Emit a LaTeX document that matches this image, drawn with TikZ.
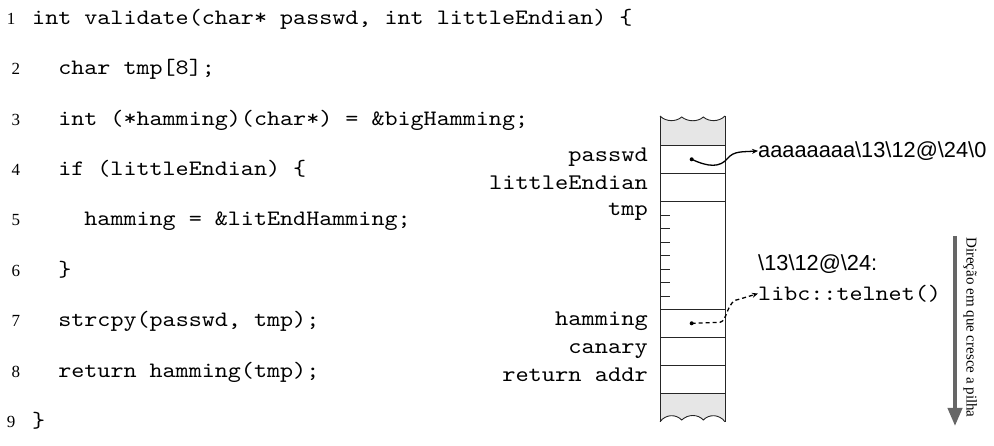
\documentclass[tikz,border=0pt]{standalone}
\usepackage{fontspec}
\setmainfont{Liberation Serif}
\newfontfamily\codefont{lmmono10-regular.otf}[FakeStretch=1.13]
\newfontfamily\labelfont{Liberation Sans}
\usetikzlibrary{arrows.meta}

\definecolor{stackgray}{HTML}{E6E6E6}
\definecolor{arrowgray}{HTML}{666666}

\tikzset{
  codeline/.style={anchor=mid west, inner sep=0pt, font=\codefont\fontsize{22}{24}\selectfont},
  lineno/.style={anchor=mid, inner sep=0pt, font=\fontsize{17}{20}\selectfont},
  slotlabel/.style={anchor=mid east, inner sep=0pt, font=\codefont\fontsize{22.3}{24}\selectfont},
  valuetext/.style={anchor=mid west, inner sep=0pt, font=\labelfont\fontsize{21.8}{24}\selectfont},
  frameline/.style={line width=0.9pt, draw=black!85},
  ptr/.style={line width=1.3pt, -{Stealth[length=6pt,width=5pt]}},
  ptrdot/.style={circle, fill=black, inner sep=0pt, minimum size=4pt},
}

\begin{document}
\begin{tikzpicture}[x=1pt,y=-1pt]
\useasboundingbox (0,0) rectangle (994,446);

% ---- source listing ----
\node[lineno] (n1) at (11,22) {1};
\node[codeline] (c1) at (32,22) {int validate(char* passwd, int littleEndian) \{};
\foreach \i/\txt/\ind in {2/{char tmp[8];}/2, 3/{int (*hamming)(char*) = \&bigHamming;}/2,
  4/{if (littleEndian) \{}/2, 5/{hamming = \&litEndHamming;}/4, 6/{\}}/2,
  7/{strcpy(passwd, tmp);}/2, 8/{return hamming(tmp);}/2}{
  \node[lineno] (n\i) at (16,{22+(\i-1)*50.4}) {\i};
  \node[codeline] (c\i) at ({32+\ind*13.05},{22+(\i-1)*50.4}) {\txt};
}
\node[lineno] (n9) at (11,425.2) {9};
\node[codeline] (c9) at (32,425.2) {\}};

% ---- stack frame ----
% grey torn ends
\path[fill=stackgray] (660,145.7) -- (660,116)
  .. controls (666,122) and (676,122) .. (681.7,117)
  .. controls (688,122) and (698,122) .. (703.3,117)
  .. controls (709,122) and (719,122) .. (725,116) -- (725,145.7) -- cycle;
\path[fill=stackgray] (660,393.3) -- (660,421.7)
  .. controls (666,414) and (676,414) .. (681.7,420)
  .. controls (688,414) and (698,414) .. (703.3,420)
  .. controls (709,414) and (719,414) .. (725,421.7) -- (725,393.3) -- cycle;
\draw[frameline] (660,116)
  .. controls (666,122) and (676,122) .. (681.7,117)
  .. controls (688,122) and (698,122) .. (703.3,117)
  .. controls (709,122) and (719,122) .. (725,116);
\draw[frameline] (660,421.7)
  .. controls (666,414) and (676,414) .. (681.7,420)
  .. controls (688,414) and (698,414) .. (703.3,420)
  .. controls (709,414) and (719,414) .. (725,421.7);
\draw[frameline] (660,116) -- (660,421.7);
\draw[frameline] (725,116) -- (725,421.7);
\foreach \y in {145.7,173.3,201,309.3,337,365,393.3}
  \draw[frameline] (660,\y) -- (725,\y);
\foreach \y in {215,228.3,242.3,255.7,269.3,282.7,296}
  \draw[frameline] (660,\y) -- (670,\y);

% slot names
\node[slotlabel] (s1) at (648,159.5) {passwd};
\node[slotlabel] (s2) at (648,187) {littleEndian};
\node[slotlabel] (s3) at (648,213) {tmp};
\node[slotlabel] (s4) at (648,323.3) {hamming};
\node[slotlabel] (s5) at (648,351) {canary};
\node[slotlabel] (s6) at (648,379) {return addr};

% overflowed contents
\node[valuetext] (v1) at (758,155) {aaaaaaaa\textbackslash13\textbackslash12@\textbackslash24\textbackslash0};
\node[valuetext] (v2) at (758,268) {\textbackslash13\textbackslash12@\textbackslash24:};
\node[codeline] (v3) at (758,298) {libc::telnet()};

% pointers
\node[ptrdot] (p1) at (691.7,159.3) {};
\node[ptrdot] (p2) at (691.7,323.3) {};
\draw[ptr] (p1.center) .. controls (708,167) and (720,168) .. (728,158)
  .. controls (734,151) and (742,152) .. (v1.west);
\coordinate (bend) at (720,322.3);
\draw[ptr, dashed, dash pattern=on 4pt off 3pt] (p2.center) -- (bend)
  .. controls (728,321) and (726,300) .. (740,299) -- (v3.west);

% growth direction
\coordinate (g0) at (955,236);
\coordinate (g1) at (955,426);
\draw[arrowgray, line width=3.8pt, -{Triangle[length=18pt,width=14pt]}] (g0) -- (g1);
\node[rotate=-90, anchor=mid west, inner sep=0pt, font=\fontsize{15}{17}\selectfont] (dir) at (969,237) {Direção em que cresce a pilha};
\end{tikzpicture}
\end{document}
